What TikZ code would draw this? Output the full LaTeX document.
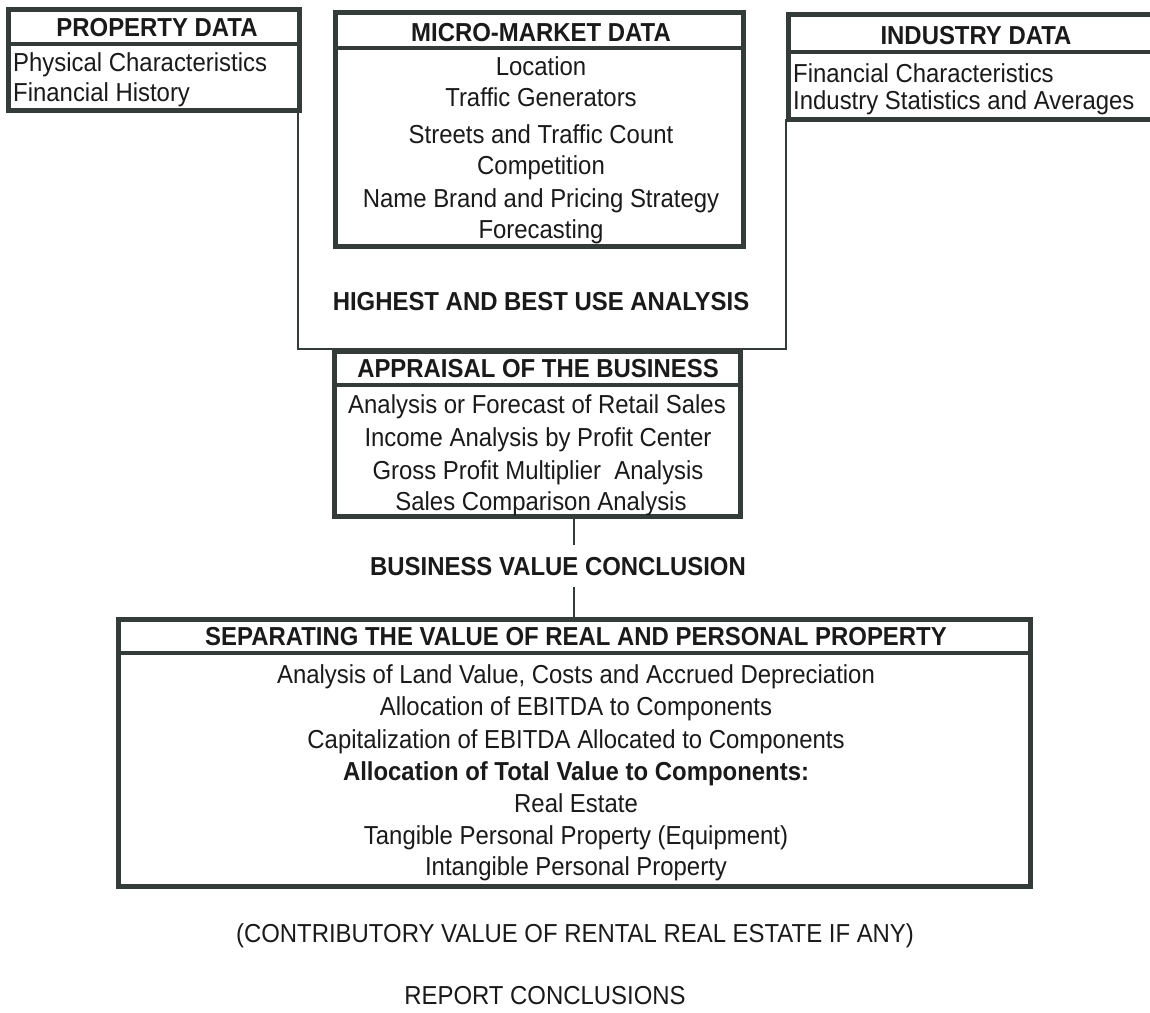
\documentclass[tikz,border=0pt]{standalone}
\usepackage{fontspec}
\setmainfont{Liberation Sans}[FakeStretch=0.92]
\definecolor{boxc}{HTML}{343C39}
\definecolor{txt}{HTML}{1A1A1A}
\tikzset{
  panel/.style={draw=boxc, line width=5pt, fill=white, inner sep=0pt, outer sep=0pt, anchor=north west},
  divline/.style={draw=boxc, line width=4.5pt},
  conn/.style={draw=boxc, line width=1.8pt},
  body/.style={text=txt, font=\fontsize{26}{30}\selectfont, inner sep=0pt, anchor=base},
  bodyl/.style={body, anchor=base west},
  head/.style={body, font=\fontsize{26}{30}\selectfont\bfseries},
}
\begin{document}
\begin{tikzpicture}[x=1pt,y=-1pt]
\path[use as bounding box, fill=white] (0,0) rectangle (1150,1012);
\clip (0,0) rectangle (1150,1012);

% boxes (outer frames)
\node[panel, minimum width=291pt, minimum height=101pt] (prop) at (8,9) {};
\node[panel, minimum width=408pt, minimum height=234pt] (micro) at (335,12) {};
\node[panel, minimum width=372pt, minimum height=105pt] (ind) at (788,14) {};

% frame connector around the highest and best use analysis
\coordinate (fl) at (298,349);
\coordinate (fr) at (786,349);
\draw[conn] (prop.south -| fl) -- (fl) -- (fr) -- (ind.south -| fr);

\node[panel, minimum width=406pt, minimum height=165pt] (appr) at (334,351) {};
\node[panel, minimum width=912pt, minimum height=267pt] (sep) at (118,619) {};

% header dividers
\draw[divline] (prop.west |- 0,44) -- (prop.east |- 0,44);
\draw[divline] (micro.west |- 0,48) -- (micro.east |- 0,48);
\draw[divline] (ind.west |- 0,52) -- (ind.east |- 0,52);
\draw[divline] (appr.west |- 0,385) -- (appr.east |- 0,385);
\draw[divline] (sep.west |- 0,653) -- (sep.east |- 0,653);

% property data
\node[head] (propH) at (157,36) {PROPERTY DATA};
\node[bodyl] (propA) at (13,71) {Physical Characteristics};
\node[bodyl] (propB) at (13,101) {Financial History};

% micro-market data
\node[head] (microH) at (541,41) {MICRO-MARKET DATA};
\node[body] (mA) at (541,75) {Location};
\node[body] (mB) at (541,106) {Traffic Generators};
\node[body] (mC) at (541,143) {Streets and Traffic Count};
\node[body] (mD) at (541,174) {Competition};
\node[body] (mE) at (541,207) {Name Brand and Pricing Strategy};
\node[body] (mF) at (541,238) {Forecasting};

% industry data
\node[head] (indH) at (976,44) {INDUSTRY DATA};
\node[bodyl] (iA) at (793,82) {Financial Characteristics};
\node[bodyl] (iB) at (793,109) {Industry Statistics and Averages};

% highest and best use
\node[head] (hbu) at (541,310) {HIGHEST AND BEST USE ANALYSIS};

% appraisal of the business
\node[head] (apprH) at (538,377) {APPRAISAL OF THE BUSINESS};
\node[body] (aA) at (537,413) {Analysis or Forecast of Retail Sales};
\node[body] (aB) at (538,446) {Income Analysis by Profit Center};
\node[body] (aC) at (538,479) {Gross Profit Multiplier~ Analysis};
\node[body] (aD) at (541,510) {Sales Comparison Analysis};

% business value conclusion
\node[head, inner ysep=12pt] (bvc) at (558,575) {BUSINESS VALUE CONCLUSION};
\draw[conn] (sep.north |- appr.south) -- (sep.north |- bvc.north);
\draw[conn] (sep.north |- bvc.south) -- (sep.north);

% separating the value
\node[head] (sepH) at (576,645) {SEPARATING THE VALUE OF REAL AND PERSONAL PROPERTY};
\node[body] (sA) at (576,683) {Analysis of Land Value, Costs and Accrued Depreciation};
\node[body] (sB) at (576,715) {Allocation of EBITDA to Components};
\node[body] (sC) at (576,748) {Capitalization of EBITDA Allocated to Components};
\node[head] (sD) at (576,780) {Allocation of Total Value to Components:};
\node[body] (sE) at (576,812) {Real Estate};
\node[body] (sF) at (576,844) {Tangible Personal Property (Equipment)};
\node[body] (sG) at (576,875) {Intangible Personal Property};

% bottom lines
\node[body] (contrib) at (575,942) {(CONTRIBUTORY VALUE OF RENTAL REAL ESTATE IF ANY)};
\node[body] (report) at (545,1004) {REPORT CONCLUSIONS};
\end{tikzpicture}
\end{document}
